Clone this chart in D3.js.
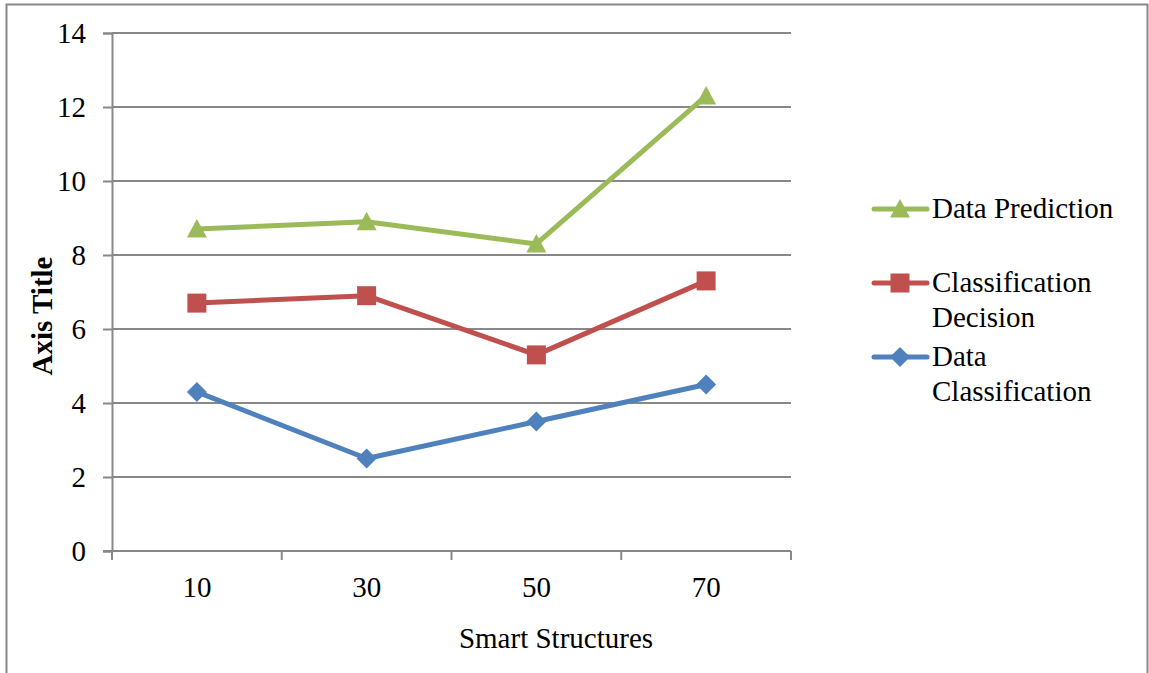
<!DOCTYPE html>
<html>
<head>
<meta charset="utf-8">
<script src="https://cdn.jsdelivr.net/npm/d3@7"></script>
<style>
  html, body { margin: 0; padding: 0; background: #fff; }
  svg { display: block; }
  text { font-family: "Liberation Serif", "Times New Roman", serif; fill: #000; }
</style>
</head>
<body>
<svg id="chart" width="1149" height="673"></svg>
<script>
// Chart data
const categories = ["10", "30", "50", "70"];
const dataClassification = [4.3, 2.5, 3.5, 4.5];
const classificationDecision = [6.7, 6.9, 5.3, 7.3];
const dataPrediction = [8.7, 8.9, 8.3, 12.3];
const yTicks = [0, 2, 4, 6, 8, 10, 12, 14];

const series = [
  { name: ["Data Prediction"], values: dataPrediction, color: "#9BBB59", marker: "triangle" },
  { name: ["Classification", "Decision"], values: classificationDecision, color: "#C0504D", marker: "square" },
  { name: ["Data", "Classification"], values: dataClassification, color: "#4F81BD", marker: "diamond" }
];

const svg = d3.select("#chart");
const W = 1149, H = 673;
const plot = { left: 112, right: 791, top: 33, bottom: 551 };
const fontSize = 29;
const serif = "'Liberation Serif', 'Times New Roman', serif";

// Outer frame (bottom edge falls outside the view)
svg.append("path")
  .attr("d", `M6.5,${H + 2} V4.5 H1147.5 V${H + 2}`)
  .attr("fill", "none").attr("stroke", "#888").attr("stroke-width", 2);

const x = d3.scaleBand().domain(categories).range([plot.left, plot.right]).padding(0);
const y = d3.scaleLinear().domain([0, 14]).range([plot.bottom, plot.top]);

// Horizontal gridlines
svg.append("g").selectAll("line").data(yTicks.filter(d => d > 0)).join("line")
  .attr("x1", plot.left).attr("x2", plot.right)
  .attr("y1", d => y(d)).attr("y2", d => y(d))
  .attr("stroke", "#888").attr("stroke-width", 2);

// Y axis
const yAxis = svg.append("g").attr("transform", `translate(${plot.left},0)`)
  .call(d3.axisLeft(y).tickValues(yTicks).tickSize(9).tickPadding(17).tickFormat(d3.format("d")))
  .attr("font-family", serif).attr("font-size", fontSize);
yAxis.select(".domain").attr("stroke", "#888").attr("stroke-width", 2);
yAxis.selectAll(".tick line").attr("stroke", "#888").attr("stroke-width", 2);
yAxis.selectAll(".tick text").attr("fill", "#000");

// X axis with ticks at category boundaries
const xAxisG = svg.append("g").attr("transform", `translate(0,${plot.bottom})`)
  .attr("font-family", serif);
xAxisG.append("line").attr("x1", plot.left - 9).attr("x2", plot.right)
  .attr("stroke", "#888").attr("stroke-width", 2);
const boundaries = categories.map(c => x(c)).concat([plot.right]);
xAxisG.selectAll("line.tk").data(boundaries).join("line").attr("class", "tk")
  .attr("x1", d => d).attr("x2", d => d).attr("y1", 0).attr("y2", 9)
  .attr("stroke", "#888").attr("stroke-width", 2);
xAxisG.selectAll("text").data(categories).join("text")
  .attr("x", d => x(d) + x.bandwidth() / 2).attr("y", 46)
  .attr("text-anchor", "middle").attr("font-size", fontSize).text(d => d);

// Axis titles
svg.append("text").attr("x", 556).attr("y", 648).attr("text-anchor", "middle")
  .attr("font-family", serif).attr("font-size", fontSize).text("Smart Structures");
svg.append("text").attr("transform", `translate(52,${(plot.top + plot.bottom) / 2 + 24}) rotate(-90)`)
  .attr("text-anchor", "middle").attr("font-family", serif).attr("font-size", fontSize)
  .attr("font-weight", "bold").text("Axis Title");

// Marker shapes
const markerSize = 20;
function markerPath(kind, cx, cy) {
  const s = markerSize / 2;
  if (kind === "triangle") return `M${cx},${cy - s} L${cx + s},${cy + s * 0.85} L${cx - s},${cy + s * 0.85} Z`;
  if (kind === "square") { const q = 9.5; return `M${cx - q},${cy - q} H${cx + q} V${cy + q} H${cx - q} Z`; }
  return `M${cx},${cy - s} L${cx + s},${cy} L${cx},${cy + s} L${cx - s},${cy} Z`;
}

const line = d3.line().x((d, i) => x(categories[i]) + x.bandwidth() / 2).y(d => y(d));

// Series drawn bottom-up so the first legend entry sits on top
[...series].reverse().forEach(s => {
  const g = svg.append("g");
  g.append("path").attr("d", line(s.values)).attr("fill", "none")
    .attr("stroke", s.color).attr("stroke-width", 5).attr("stroke-linejoin", "round").attr("stroke-linecap", "round");
  g.selectAll("path.m").data(s.values).join("path").attr("class", "m")
    .attr("d", (d, i) => markerPath(s.marker, x(categories[i]) + x.bandwidth() / 2, y(d)))
    .attr("fill", s.color);
});

// Legend
const legendRows = [209, 283, 357];
series.forEach((s, i) => {
  const cy = legendRows[i];
  const g = svg.append("g").attr("font-family", serif);
  g.append("line").attr("x1", 874).attr("x2", 927).attr("y1", cy).attr("y2", cy)
    .attr("stroke", s.color).attr("stroke-width", 5).attr("stroke-linecap", "round");
  g.append("path").attr("d", markerPath(s.marker, 900, cy)).attr("fill", s.color);
  s.name.forEach((t, k) => {
    g.append("text").attr("x", 932).attr("y", cy + 9 + k * 35).attr("font-size", fontSize).text(t);
  });
});
</script>
</body>
</html>
